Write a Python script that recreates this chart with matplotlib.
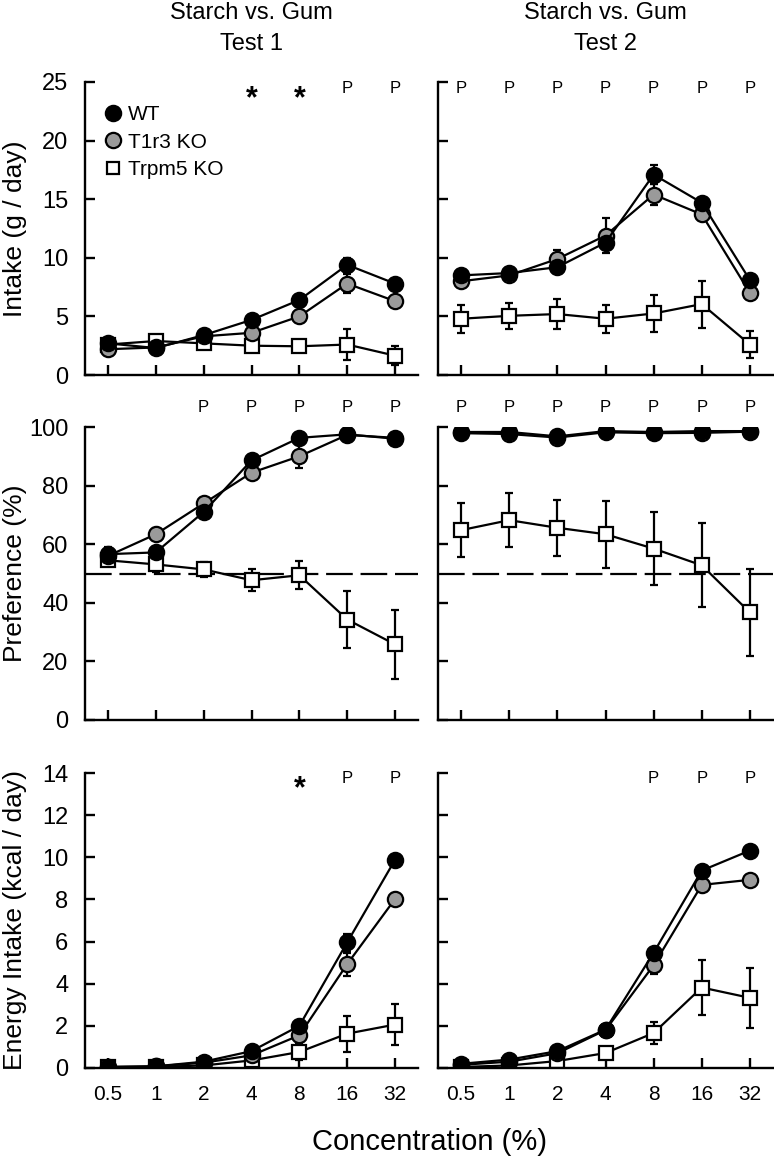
import numpy as np
import matplotlib
matplotlib.use('Agg')
import matplotlib.pyplot as plt
from matplotlib.lines import Line2D

plt.rcParams['font.family'] = ['Liberation Sans', 'DejaVu Sans']

conc = [0.5, 1, 2, 4, 8, 16, 32]
conc_labels = ['0.5', '1', '2', '4', '8', '16', '32']

# intake (g / day)
intake1_wt = [2.7, 2.3, 3.4, 4.7, 6.4, 9.4, 7.8]
intake1_wt_err = [0.3, 0.2, 0.3, 0.3, 0.3, 0.6, 0.3]
intake1_t1r3 = [2.2, 2.35, 3.3, 3.6, 5.0, 7.8, 6.3]
intake1_t1r3_err = [0.2, 0.2, 0.3, 0.3, 0.3, 0.8, 0.3]
intake1_trpm5 = [2.6, 2.9, 2.7, 2.5, 2.45, 2.6, 1.65]
intake1_trpm5_err = [0.3, 0.3, 0.3, 0.3, 0.3, 1.35, 0.8]

intake2_wt = [8.5, 8.7, 9.2, 11.3, 17.1, 14.7, 8.1]
intake2_wt_err = [0.4, 0.4, 0.4, 0.4, 0.8, 0.3, 0.3]
intake2_t1r3 = [8.0, 8.5, 9.9, 11.9, 15.4, 13.7, 7.0]
intake2_t1r3_err = [0.4, 0.4, 0.8, 1.5, 0.9, 0.3, 0.3]
intake2_trpm5 = [4.8, 5.05, 5.2, 4.8, 5.25, 6.05, 2.6]
intake2_trpm5_err = [1.2, 1.1, 1.3, 1.2, 1.6, 2.0, 1.15]

# preference (%)
pref1_wt = [56.6, 57.2, 71.0, 88.6, 96.3, 97.5, 96.0]
pref1_wt_err = [2.5, 2.0, 2.0, 1.5, 1.0, 0.5, 1.0]
pref1_t1r3 = [56.0, 63.4, 73.9, 84.4, 90.0, 97.3, 96.3]
pref1_t1r3_err = [2.0, 2.0, 2.0, 2.0, 4.0, 0.5, 1.0]
pref1_trpm5 = [54.5, 53.1, 51.4, 47.7, 49.4, 34.3, 25.8]
pref1_trpm5_err = [2.0, 2.5, 2.5, 3.8, 4.8, 9.8, 11.9]

pref2_wt = [98.3, 98.3, 96.8, 98.6, 98.3, 98.6, 98.6]
pref2_wt_err = [0.5, 0.5, 0.5, 0.5, 0.5, 0.5, 0.5]
pref2_t1r3 = [97.9, 97.6, 96.4, 98.2, 97.9, 98.0, 98.4]
pref2_t1r3_err = [0.5, 0.5, 0.5, 0.5, 0.5, 0.5, 0.5]
pref2_trpm5 = [64.8, 68.2, 65.6, 63.4, 58.5, 52.8, 36.7]
pref2_trpm5_err = [9.1, 9.3, 9.5, 11.4, 12.5, 14.3, 14.9]

# energy intake (kcal / day)
energy1_wt = [0.05, 0.08, 0.3, 0.8, 2.0, 5.96, 9.88]
energy1_wt_err = [0.05, 0.05, 0.05, 0.1, 0.15, 0.4, 0.2]
energy1_t1r3 = [0.05, 0.08, 0.25, 0.6, 1.55, 4.93, 8.02]
energy1_t1r3_err = [0.05, 0.05, 0.05, 0.1, 0.15, 0.55, 0.3]
energy1_trpm5 = [0.03, 0.05, 0.12, 0.36, 0.76, 1.63, 2.06]
energy1_trpm5_err = [0.03, 0.03, 0.05, 0.1, 0.4, 0.85, 0.98]

energy2_wt = [0.2, 0.4, 0.8, 1.82, 5.47, 9.37, 10.32]
energy2_wt_err = [0.1, 0.1, 0.1, 0.1, 0.2, 0.2, 0.2]
energy2_t1r3 = [0.15, 0.3, 0.7, 1.8, 4.88, 8.69, 8.93]
energy2_t1r3_err = [0.1, 0.1, 0.1, 0.1, 0.43, 0.2, 0.2]
energy2_trpm5 = [0.05, 0.12, 0.33, 0.71, 1.66, 3.82, 3.33]
energy2_trpm5_err = [0.05, 0.05, 0.1, 0.3, 0.5, 1.3, 1.43]

sig_intake1 = ['', '', '', '*', '*', 'P', 'P']
sig_intake2 = ['P', 'P', 'P', 'P', 'P', 'P', 'P']
sig_pref1 = ['', '', 'P', 'P', 'P', 'P', 'P']
sig_pref2 = ['P', 'P', 'P', 'P', 'P', 'P', 'P']
sig_energy1 = ['', '', '', '', '*', 'P', 'P']
sig_energy2 = ['', '', '', '', 'P', 'P', 'P']

GRAY = '#9a9a9a'
W, H = 774, 1157
fig = plt.figure(figsize=(W / 100, H / 100), dpi=100)


def rect(x0, x1, ytop, ybot):
    return [x0 / W, 1 - ybot / H, (x1 - x0) / W, (ybot - ytop) / H]


def draw(ax, wt, wt_e, t1, t1_e, tr, tr_e):
    kw = dict(color='black', lw=1.6, elinewidth=1.6, capsize=3, capthick=1.6, mew=1.6, mec='black')
    ax.errorbar(conc, tr, yerr=tr_e, marker='s', ms=9.5, mfc='white', **kw)
    ax.errorbar(conc, t1, yerr=t1_e, marker='o', ms=11, mfc=GRAY, **kw)
    ax.errorbar(conc, wt, yerr=wt_e, marker='o', ms=11, mfc='black', **kw)


def style(ax, ymax, ystep, show_y, show_x):
    ax.set_xscale('log', base=2)
    ax.set_xlim(0.5 * 2 ** -0.48, 32 * 2 ** 0.48)
    ax.set_ylim(0, ymax)
    ax.set_yticks(np.arange(0, ymax + 0.1, ystep))
    ax.set_xticks(conc)
    ax.minorticks_off()
    ax.set_xticklabels(conc_labels if show_x else [])
    if not show_y:
        ax.set_yticklabels([])
    for s in ['top', 'right']:
        ax.spines[s].set_visible(False)
    for s in ['left', 'bottom']:
        ax.spines[s].set_linewidth(1.7)
    ax.tick_params(axis='both', direction='in', length=7, width=1.7)
    ax.tick_params(axis='y', labelsize=17, pad=12)
    ax.tick_params(axis='x', labelsize=15, pad=12)


def marks(ax, sig, ypos, ystar):
    for c, s in zip(conc, sig):
        if s == 'P':
            ax.text(c, ypos, 'P', ha='center', va='center', fontsize=12, clip_on=False)
        elif s == '*':
            ax.text(c, ystar, '*', ha='center', va='center', fontsize=22, fontweight='bold', clip_on=False)


left = (85, 418)
right = (438, 773)
rows = [(82, 375), (427, 720), (773, 1068)]

ax1 = fig.add_axes(rect(*left, *rows[0]))
ax2 = fig.add_axes(rect(*right, *rows[0]))
ax3 = fig.add_axes(rect(*left, *rows[1]))
ax4 = fig.add_axes(rect(*right, *rows[1]))
ax5 = fig.add_axes(rect(*left, *rows[2]))
ax6 = fig.add_axes(rect(*right, *rows[2]))

draw(ax1, intake1_wt, intake1_wt_err, intake1_t1r3, intake1_t1r3_err, intake1_trpm5, intake1_trpm5_err)
draw(ax2, intake2_wt, intake2_wt_err, intake2_t1r3, intake2_t1r3_err, intake2_trpm5, intake2_trpm5_err)
draw(ax3, pref1_wt, pref1_wt_err, pref1_t1r3, pref1_t1r3_err, pref1_trpm5, pref1_trpm5_err)
draw(ax4, pref2_wt, pref2_wt_err, pref2_t1r3, pref2_t1r3_err, pref2_trpm5, pref2_trpm5_err)
draw(ax5, energy1_wt, energy1_wt_err, energy1_t1r3, energy1_t1r3_err, energy1_trpm5, energy1_trpm5_err)
draw(ax6, energy2_wt, energy2_wt_err, energy2_t1r3, energy2_t1r3_err, energy2_trpm5, energy2_trpm5_err)

style(ax1, 25, 5, True, False)
style(ax2, 25, 5, False, False)
style(ax3, 100, 20, True, False)
style(ax4, 100, 20, False, False)
style(ax5, 14, 2, True, True)
style(ax6, 14, 2, False, True)

for ax in (ax3, ax4):
    ax.axhline(50, color='black', lw=1.6, ls=(0, (12, 3.5)), zorder=0)

marks(ax1, sig_intake1, 24.45, 23.5)
marks(ax2, sig_intake2, 24.45, 23.5)
marks(ax3, sig_pref1, 106.5, 104)
marks(ax4, sig_pref2, 106.5, 104)
marks(ax5, sig_energy1, 13.75, 13.25)
marks(ax6, sig_energy2, 13.75, 13.25)

ax1.set_ylabel('Intake (g / day)', fontsize=19)
ax3.set_ylabel('Preference (%)', fontsize=19)
ax5.set_ylabel('Energy Intake (kcal / day)', fontsize=19)
for ax in (ax1, ax3, ax5):
    ax.yaxis.set_label_coords(-0.175, 0.5)

handles = [
    Line2D([], [], ls='none', marker='o', ms=11, mfc='black', mec='black', mew=1.6),
    Line2D([], [], ls='none', marker='o', ms=11, mfc=GRAY, mec='black', mew=1.6),
    Line2D([], [], ls='none', marker='s', ms=9, mfc='white', mec='black', mew=1.6),
]
ax1.legend(handles, ['WT', 'T1r3 KO', 'Trpm5 KO'], loc='upper left', bbox_to_anchor=(0.06, 0.92),
           frameon=False, fontsize=15, handlelength=0.8, handletextpad=0.3, labelspacing=0.4,
           borderaxespad=0, borderpad=0)

fig.text(251 / W, 1 - 13 / H, 'Starch vs. Gum', ha='center', va='center', fontsize=17)
fig.text(251 / W, 1 - 44 / H, 'Test 1', ha='center', va='center', fontsize=17)
fig.text(605 / W, 1 - 13 / H, 'Starch vs. Gum', ha='center', va='center', fontsize=17)
fig.text(605 / W, 1 - 44 / H, 'Test 2', ha='center', va='center', fontsize=17)
fig.text(430 / W, 1 - 1142 / H, 'Concentration (%)', ha='center', va='center', fontsize=21)

fig.savefig('out.png', dpi=100)
